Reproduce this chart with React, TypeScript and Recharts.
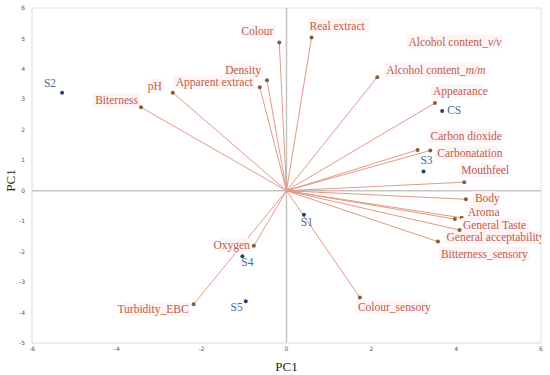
import React from 'react';
import { ScatterChart, Scatter, XAxis, YAxis, ReferenceLine } from 'recharts';

// Loading vectors (PC1 x, PC2 y)
const variableNames = [
  'Colour', 'Real extract', 'Alcohol content_m/m', 'Appearance', 'Carbon dioxide',
  'Carbonatation', 'Mouthfeel', 'Body', 'Aroma', 'General Taste',
  'General acceptability', 'Bitterness_sensory', 'Colour_sensory', 'Oxygen',
  'Turbidity_EBC', 'Biterness', 'pH', 'Apparent extract', 'Density',
];
const variableX = [-0.17, 0.59, 2.14, 3.5, 3.09, 3.39, 4.19, 4.23, 4.13, 3.97, 4.08, 3.57, 1.73, -0.77, -2.19, -3.43, -2.68, -0.63, -0.46];
const variableY = [4.87, 5.03, 3.73, 2.88, 1.34, 1.32, 0.28, -0.28, -0.89, -0.93, -1.29, -1.67, -3.51, -1.81, -3.73, 2.74, 3.22, 3.4, 3.63];

// Sample scores
const sampleNames = ['S2', 'CS', 'S3', 'S1', 'S4', 'S5'];
const sampleX = [-5.29, 3.67, 3.23, 0.41, -1.04, -0.96];
const sampleY = [3.22, 2.62, 0.63, -0.79, -2.15, -3.63];

// Stand-alone label (no vector drawn)
const loneNames = ['Alcohol content_v/v'];
const loneX = [3.97];
const loneY = [4.9];

const xTicks = [-6, -4, -2, 0, 2, 4, 6];
const yTicks = [-5, -4, -3, -2, -1, 0, 1, 2, 3, 4, 5, 6];

const variables = variableNames.map((name, i) => ({ name, x: variableX[i], y: variableY[i] }));
const samples = sampleNames.map((name, i) => ({ name, x: sampleX[i], y: sampleY[i] }));
const lone = loneNames.map((name, i) => ({ name, x: loneX[i], y: loneY[i] }));

// label placement: [anchor, dx, dy]
const placement: Record<string, [string, number, number]> = {
  'Colour': ['end', -6, -11],
  'Real extract': ['start', -2, -12],
  'Alcohol content_m/m': ['start', 9, -7],
  'Appearance': ['start', -2, -12],
  'Carbon dioxide': ['start', 13, -14],
  'Carbonatation': ['start', 7, 2],
  'Mouthfeel': ['start', -3, -12],
  'Body': ['start', 9, -1],
  'Aroma': ['start', 6, -6],
  'General Taste': ['start', 8, 6],
  'General acceptability': ['start', -13, 7],
  'Bitterness_sensory': ['start', 3, 12],
  'Colour_sensory': ['start', -2, 9],
  'Oxygen': ['end', -4, -1],
  'Turbidity_EBC': ['end', -5, 5],
  'Biterness': ['end', -3, -7],
  'pH': ['end', -11, -7],
  'Apparent extract': ['end', -7, -5],
  'Density': ['end', -6, -10],
  'S2': ['end', -6, -10],
  'CS': ['start', 5, -1],
  'S3': ['middle', 3, -12],
  'S1': ['middle', 3, 7],
  'S4': ['middle', 5, 6],
  'S5': ['end', -3, 6],
  'Alcohol content_v/v': ['middle', 0, 0],
};

const FONT = '"Liberation Serif", "Times New Roman", serif';
const VAR_COLOR = '#b8604a';
const VAR_DOT = '#8a5a3a';
const VEC_COLOR = '#e39a86';
const SAMPLE_DOT = '#2b3f70';
const SAMPLE_COLOR = '#4a6b9c';

function renderName(name: string) {
  const idx = name.lastIndexOf('_');
  if (idx >= 0 && name.slice(idx + 1).includes('/')) {
    return (
      <>
        {name.slice(0, idx + 1)}
        <tspan fontStyle="italic">{name.slice(idx + 1)}</tspan>
      </>
    );
  }
  return name;
}

function LabelText({ cx, cy, name, color, bg }: { cx: number; cy: number; name: string; color: string; bg: boolean }) {
  const p = placement[name] || ['start', 4, 0];
  const [anchor, dx, dy] = p;
  const fs = 11.5;
  const w = name.length * fs * 0.42;
  const tx = cx + dx;
  const ty = cy + dy;
  const rx = anchor === 'start' ? tx - 2 : anchor === 'end' ? tx - w - 2 : tx - w / 2 - 2;
  return (
    <g>
      {bg && <rect x={rx} y={ty - 7} width={w + 4} height={14} fill="#fef4f6" />}
      <text
        x={tx}
        y={ty}
        textAnchor={anchor as any}
        dominantBaseline="central"
        fontFamily={FONT}
        fontSize={fs}
        fill={color}
      >
        {renderName(name)}
      </text>
    </g>
  );
}

const VarShape = (props: any) => {
  const { cx, cy, payload } = props;
  return (
    <g>
      <LabelText cx={cx} cy={cy} name={payload.name} color={VAR_COLOR} bg />
      <circle cx={cx} cy={cy} r={2} fill={VAR_DOT} />
    </g>
  );
};

const SampleShape = (props: any) => {
  const { cx, cy, payload } = props;
  return (
    <g>
      <LabelText cx={cx} cy={cy} name={payload.name} color={SAMPLE_COLOR} bg={false} />
      <circle cx={cx} cy={cy} r={2} fill={SAMPLE_DOT} />
    </g>
  );
};

const LoneShape = (props: any) => {
  const { cx, cy, payload } = props;
  return <LabelText cx={cx} cy={cy} name={payload.name} color={VAR_COLOR} bg />;
};

const XTitle = (props: any) => {
  const vb = props.viewBox || {};
  const x = vb.x + vb.width / 2;
  const y = vb.y + 23;
  return (
    <text x={x} y={y} textAnchor="middle" dominantBaseline="central" fontFamily={FONT} fontSize={13} fill="#222">
      PC1
    </text>
  );
};

const YTitle = (props: any) => {
  const vb = props.viewBox || {};
  const x = vb.x + 10;
  const y = vb.y + vb.height / 2 + 5;
  return (
    <text
      x={x}
      y={y}
      transform={`rotate(-90 ${x} ${y})`}
      textAnchor="middle"
      dominantBaseline="central"
      fontFamily={FONT}
      fontSize={13}
      fill="#222"
    >
      PC1
    </text>
  );
};

export default function App() {
  return (
    <div style={{ position: 'absolute', left: 0, top: 0, width: 550, height: 375, background: '#fff' }}>
      <ScatterChart width={550} height={375} margin={{ top: 8, right: 9, bottom: 0, left: 0 }}>
        <XAxis
          type="number"
          dataKey="x"
          domain={[-6, 6]}
          ticks={xTicks}
          allowDataOverflow
          height={32}
          axisLine={{ stroke: '#d8d8d8' }}
          tickLine={false}
          tickSize={2}
          tickMargin={2}
          tick={{ fontSize: 6, fill: '#555', fontFamily: 'DejaVu Sans, sans-serif' }}
          label={<XTitle />}
        />
        <YAxis
          type="number"
          dataKey="y"
          domain={[-5, 6]}
          ticks={yTicks}
          allowDataOverflow
          width={32}
          axisLine={{ stroke: '#d8d8d8' }}
          tickLine={false}
          tickSize={2}
          tickMargin={5}
          tick={{ fontSize: 6, fill: '#555', fontFamily: 'DejaVu Sans, sans-serif' }}
          label={<YTitle />}
        />
        <ReferenceLine y={6} stroke="#e0e0e0" />
        <ReferenceLine x={6} stroke="#e0e0e0" />
        <ReferenceLine x={0} stroke="#c4c4c4" strokeWidth={1.5} />
        <ReferenceLine y={0} stroke="#c4c4c4" strokeWidth={1.5} />
        {variables.map((v) => (
          <ReferenceLine
            key={v.name}
            segment={[{ x: 0, y: 0 }, { x: v.x, y: v.y }]}
            stroke={VEC_COLOR}
            strokeWidth={1}
            ifOverflow="visible"
          />
        ))}
        <Scatter data={lone} shape={LoneShape} isAnimationActive={false} />
        <Scatter data={variables} shape={VarShape} isAnimationActive={false} />
        <Scatter data={samples} shape={SampleShape} isAnimationActive={false} />
      </ScatterChart>
    </div>
  );
}
